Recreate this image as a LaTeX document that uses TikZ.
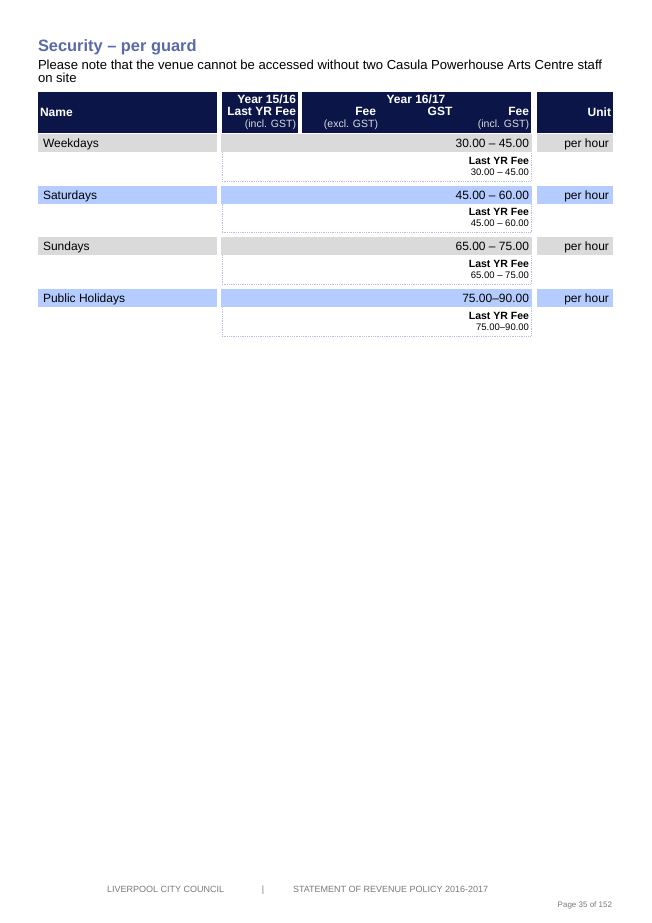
\documentclass[tikz,border=0pt]{standalone}
\usepackage{fontspec}
\setmainfont{Liberation Sans}
\definecolor{navy}{HTML}{0B1547}
\definecolor{titleblue}{HTML}{5A6AA6}
\definecolor{bandgray}{HTML}{DADADA}
\definecolor{bandblue}{HTML}{B4CCFF}
\definecolor{dotline}{HTML}{B8BEE0}
\definecolor{footgray}{HTML}{7A7A7A}
\begin{document}
\begin{tikzpicture}[x=1pt,y=-1pt,
  txt/.style={inner sep=0pt, outer sep=0pt, font=\fontsize{12}{13}\selectfont},
  hd/.style={txt, text=white, font=\bfseries\fontsize{12}{13}\selectfont},
  hdsmall/.style={txt, text=white!85!navy, font=\fontsize{10.5}{12}\selectfont},
  sublbl/.style={txt, font=\bfseries\fontsize{10.5}{12}\selectfont},
  subamt/.style={txt, font=\fontsize{9.5}{11}\selectfont},
  hdrbox/.style={fill=navy, draw=none},
  subbox/.style={draw=dotline, densely dotted, line width=0.8pt},
  foot/.style={txt, text=footgray, font=\fontsize{9}{10}\selectfont}]
\useasboundingbox[fill=white] (0,0) rectangle (652,923);

% title and note
\node[txt, anchor=base west, text=titleblue, font=\bfseries\fontsize{16.4}{19}\selectfont] (title) at (38,51.5) {Security – per guard};
\node[txt, anchor=base west, font=\fontsize{13.1}{14}\selectfont] (note1) at (38,69.8) {Please note that the venue cannot be accessed without two Casula Powerhouse Arts Centre staff};
\node[txt, anchor=base west, font=\fontsize{13.1}{14}\selectfont] (note2) at (38,82.6) {on site};

% header boxes
\path[hdrbox] (38,92) rectangle (217,133);
\path[hdrbox] (222,92) rectangle (298,133);
\path[hdrbox] (302,92) rectangle (531,133);
\path[hdrbox] (537,92) rectangle (613,133);

\node[hd, anchor=base west] (hname) at (40,117) {Name};
\node[hd, anchor=base east] (hy1) at (296,104) {Year 15/16};
\node[hd, anchor=base east] (hy1b) at (296,115.5) {Last YR Fee};
\node[hdsmall, anchor=base east] (hy1c) at (296,128) {(incl. GST)};
\node[hd, anchor=base] (hy2) at (416,104) {Year 16/17};
\node[hd, anchor=base east] (hfee) at (376,115.5) {Fee};
\node[hdsmall, anchor=base east] (hfeex) at (378,128) {(excl. GST)};
\node[hd, anchor=base] (hgst) at (440,115.5) {GST};
\node[hd, anchor=base east] (hfeei) at (529,115.5) {Fee};
\node[hdsmall, anchor=base east] (hfeeic) at (529,128) {(incl. GST)};
\node[hd, anchor=base east] (hunit) at (611,117) {Unit};

% rows
\foreach \i/\nm/\amt/\last/\col in {
  0/Weekdays/30.00 – 45.00/30.00 – 45.00/bandgray,
  1/Saturdays/45.00 – 60.00/45.00 – 60.00/bandblue,
  2/Sundays/65.00 – 75.00/65.00 – 75.00/bandgray,
  3/Public Holidays/75.00–90.00/75.00–90.00/bandblue}{
  \pgfmathsetmacro{\t}{134+51.67*\i}
  \path[fill=\col] (38,\t) rectangle (217,\t+18);
  \path[fill=\col] (221,\t) rectangle (532,\t+18);
  \path[fill=\col] (537,\t) rectangle (613,\t+18);
  \draw[subbox] (222,\t+18) -- (222,\t+47) -- (531,\t+47) -- (531,\t+18);
  \node[txt, anchor=base west] (name\i) at (43,\t+13.5) {\nm};
  \node[txt, anchor=base east] (amt\i) at (529,\t+13.5) {\amt};
  \node[txt, anchor=base east] (unit\i) at (609,\t+13.5) {per hour};
  \node[sublbl, anchor=base east] (lbl\i) at (529,\t+30) {Last YR Fee};
  \node[subamt, anchor=base east] (last\i) at (529,\t+41) {\last};
}

% footer
\node[foot, anchor=base west] (f1) at (107,892) {LIVERPOOL CITY COUNCIL};
\node[foot, anchor=base] (f2) at (263,892) {|};
\node[foot, anchor=base west] (f3) at (293,892) {STATEMENT OF REVENUE POLICY 2016-2017};
\node[foot, anchor=base east, font=\fontsize{8}{9}\selectfont] (f4) at (612,907) {Page 35 of 152};
\end{tikzpicture}
\end{document}
